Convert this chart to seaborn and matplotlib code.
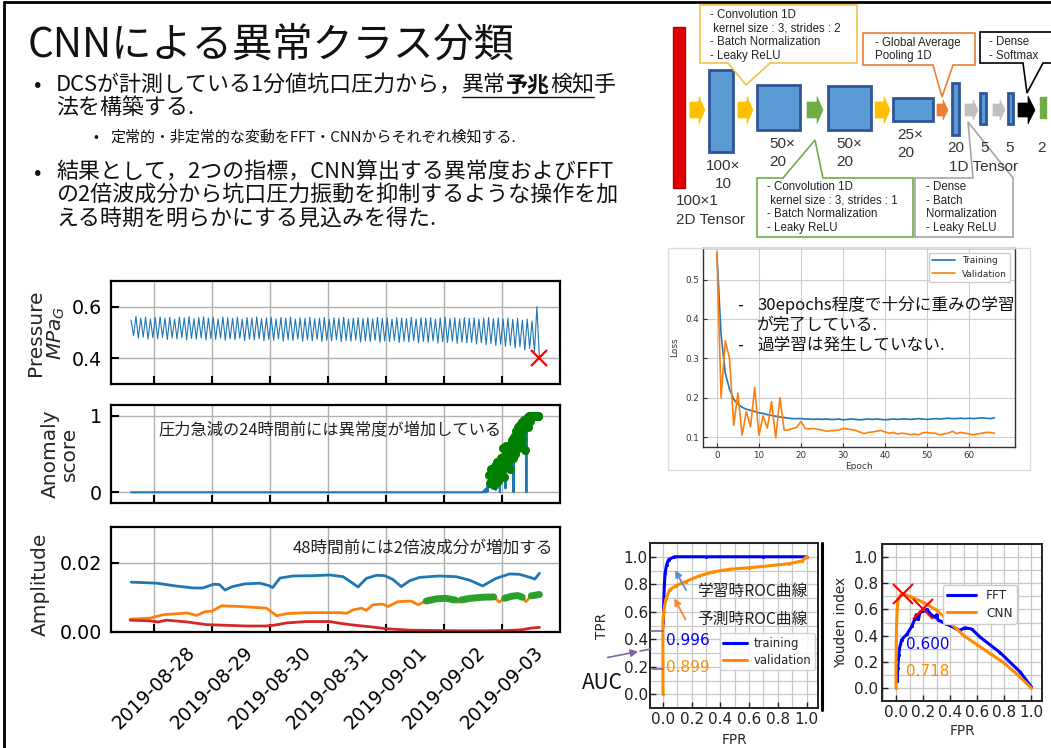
import numpy as np
import pandas as pd
import matplotlib
matplotlib.use("Agg")
import matplotlib.pyplot as plt
import matplotlib.dates as mdates
from matplotlib.patches import Polygon, Rectangle
from matplotlib.ticker import MultipleLocator, FormatStrFormatter
import seaborn as sns

# ======================= DATA =======================
# --- wellhead pressure (alternating peak / trough, hourly points) ---
pressure_start = "2019-08-27 14:20"
pressure_peaks = [0.548, 0.562, 0.556, 0.560, 0.553, 0.558, 0.561, 0.555, 0.559, 0.552,
                  0.560, 0.557, 0.562, 0.554, 0.558, 0.561, 0.556, 0.559, 0.553, 0.560,
                  0.557, 0.555, 0.560, 0.552, 0.558, 0.556, 0.561, 0.554, 0.557, 0.559,
                  0.553, 0.558, 0.556, 0.560, 0.552, 0.557, 0.555, 0.559, 0.553, 0.556,
                  0.558, 0.551, 0.557, 0.555, 0.559, 0.552, 0.556, 0.558, 0.554, 0.557,
                  0.553, 0.559, 0.555, 0.557, 0.552, 0.558, 0.556, 0.554, 0.559, 0.553,
                  0.557, 0.555, 0.558, 0.552, 0.556, 0.559, 0.554, 0.557, 0.553, 0.558,
                  0.555, 0.557, 0.552, 0.556, 0.558, 0.554, 0.557, 0.553, 0.556, 0.551,
                  0.555, 0.548, 0.552, 0.545, 0.600]
pressure_troughs = [0.487, 0.478, 0.482, 0.474, 0.480, 0.476, 0.481, 0.473, 0.479, 0.475,
                    0.480, 0.472, 0.477, 0.474, 0.479, 0.471, 0.476, 0.473, 0.478, 0.470,
                    0.475, 0.472, 0.477, 0.469, 0.474, 0.471, 0.476, 0.468, 0.473, 0.470,
                    0.475, 0.467, 0.472, 0.469, 0.474, 0.466, 0.471, 0.468, 0.473, 0.465,
                    0.470, 0.467, 0.472, 0.464, 0.469, 0.466, 0.471, 0.463, 0.468, 0.465,
                    0.470, 0.462, 0.467, 0.464, 0.469, 0.461, 0.466, 0.463, 0.468, 0.460,
                    0.465, 0.462, 0.467, 0.459, 0.464, 0.461, 0.466, 0.458, 0.463, 0.460,
                    0.462, 0.455, 0.460, 0.452, 0.457, 0.449, 0.454, 0.446, 0.450, 0.440,
                    0.445, 0.432, 0.438, 0.425, 0.410]
pressure_drop_mark = 0.40

# --- anomaly score (flat 0 until 2019-09-02 16:00, then every 20 min) ---
anomaly_first_time = "2019-08-27 14:20"
anomaly_start = "2019-09-02 16:00"
anomaly_scores = [0.0, 0.02, 0.0, 0.04, 0.0, 0.07, 0.01, 0.09, 0.22, 0.12,
                  0.30, 0.05, 0.18, 0.27, 0.10, 0.34, 0.03, 0.24, 0.40, 0.15,
                  0.32, 0.0, 0.45, 0.26, 0.38, 0.58, 0.20, 0.48, 0.05, 0.60,
                  0.35, 0.52, 0.42, 0.62, 0.30, 0.55, 0.68, 0.45, 0.0, 0.72,
                  0.50, 0.80, 0.62, 0.85, 0.58, 0.75, 0.88, 0.65, 0.92, 0.70,
                  0.82, 0.95, 0.55, 0.90, 0.0, 0.97, 0.85, 1.0, 0.93, 1.0,
                  0.98, 1.0, 1.0, 1.0, 1.0, 1.0, 1.0, 1.0, 1.0, 1.0]
anomaly_alert_from = 8
anomaly_alert_min = 0.1

# --- FFT amplitudes (hours after 2019-08-27 00:00) ---
amp_base = "2019-08-27 00:00"
amp_fund_hours = [14.4, 25.0, 32.6, 40.2, 44.0, 48.6, 50.9, 53.2, 56.2, 61.5, 67.6, 71.4,
                  72.9, 76.0, 81.3, 90.4, 96.6, 102.1, 108.3, 111.7, 115.9, 119.3, 122.7,
                  126.2, 129.6, 133.8, 142.0, 148.9, 154.4, 159.9, 165.4, 171.0, 175.0,
                  179.5, 181.5, 183.4]
amp_fund_vals = [0.0144, 0.0141, 0.0133, 0.0127, 0.0127, 0.0138, 0.0137, 0.0121, 0.0131,
                 0.0139, 0.0141, 0.0134, 0.0128, 0.0156, 0.0162, 0.0163, 0.0165, 0.0160,
                 0.0130, 0.0155, 0.0164, 0.0163, 0.0152, 0.0131, 0.0148, 0.0158, 0.0162,
                 0.0160, 0.0150, 0.0133, 0.0155, 0.0168, 0.0167, 0.0158, 0.0153, 0.0170]
amp_2nd_hours = [14.0, 22.2, 27.6, 37.4, 41.5, 45.0, 47.7, 51.8, 59.4, 70.4, 74.6, 78.7,
                 87.0, 100.8, 103.5, 106.2, 109.7, 111.7, 114.5, 118.6, 120.7, 124.8, 130.3,
                 133.1, 136.5, 140.5, 144.5, 148.5, 149.6, 151.0, 155.0, 160.0, 164.5,
                 166.8, 169.0, 172.0, 174.5, 176.3, 177.8, 180.0, 183.4]
amp_2nd_vals = [0.0036, 0.0039, 0.0049, 0.0054, 0.0047, 0.0058, 0.0059, 0.0075, 0.0073,
                0.0068, 0.0046, 0.0052, 0.0055, 0.0055, 0.0053, 0.0063, 0.0068, 0.0062,
                0.0078, 0.0080, 0.0073, 0.0087, 0.0089, 0.0078, 0.0089, 0.0095, 0.0097,
                0.0092, 0.0085, 0.0092, 0.0097, 0.0100, 0.0101, 0.0086, 0.0097, 0.0103,
                0.0105, 0.0100, 0.0087, 0.0104, 0.0108]
amp_3rd_hours = [14.0, 22.2, 25.5, 29.1, 37.4, 45.6, 53.9, 62.2, 70.0, 73.2, 78.7, 86.7,
                 96.6, 100.8, 106.1, 114.4, 120.0, 129.6, 140.0, 150.0, 160.0, 170.0,
                 176.0, 180.0, 183.4]
amp_3rd_vals = [0.0033, 0.0031, 0.0028, 0.0033, 0.0028, 0.0020, 0.0018, 0.0016, 0.0016,
                0.0018, 0.0025, 0.0029, 0.0029, 0.0024, 0.0019, 0.0013, 0.0008, 0.0004,
                0.0003, 0.0002, 0.0002, 0.0003, 0.0005, 0.0010, 0.0012]
amp_alert_from_hour = 136
amp_alert_min = 0.0088

# --- training history ---
loss_training = [0.565, 0.360, 0.262, 0.222, 0.196, 0.184, 0.176, 0.171, 0.168, 0.165,
                 0.162, 0.160, 0.157, 0.155, 0.153, 0.151, 0.150, 0.148, 0.147, 0.147,
                 0.147, 0.146, 0.146, 0.145, 0.146, 0.145, 0.146, 0.145, 0.145, 0.146,
                 0.144, 0.145, 0.146, 0.145, 0.144, 0.145, 0.146, 0.145, 0.146, 0.145,
                 0.144, 0.145, 0.146, 0.145, 0.146, 0.146, 0.145, 0.146, 0.147, 0.146,
                 0.145, 0.146, 0.147, 0.146, 0.147, 0.148, 0.147, 0.147, 0.148, 0.147,
                 0.148, 0.147, 0.148, 0.149, 0.148, 0.147, 0.149]
loss_validation = [0.570, 0.200, 0.345, 0.300, 0.130, 0.212, 0.105, 0.165, 0.126, 0.226,
                   0.105, 0.154, 0.123, 0.190, 0.098, 0.200, 0.118, 0.118, 0.122, 0.125,
                   0.140, 0.122, 0.121, 0.122, 0.120, 0.118, 0.115, 0.116, 0.117, 0.118,
                   0.122, 0.121, 0.119, 0.117, 0.113, 0.109, 0.112, 0.113, 0.115, 0.117,
                   0.113, 0.110, 0.112, 0.108, 0.110, 0.109, 0.106, 0.108, 0.106, 0.111,
                   0.112, 0.110, 0.110, 0.106, 0.108, 0.110, 0.115, 0.109, 0.112, 0.110,
                   0.108, 0.106, 0.108, 0.110, 0.112, 0.112, 0.110]

# --- ROC curves ---
roc_train_fpr = [0.003, 0.006, 0.010, 0.015, 0.025, 0.040, 0.080, 0.300, 0.700, 1.000]
roc_train_tpr = [0.52, 0.68, 0.80, 0.88, 0.94, 0.98, 1.00, 1.00, 1.00, 1.00]
roc_val_fpr = [0.0, 0.0, 0.005, 0.02, 0.047, 0.093, 0.16, 0.25, 0.35, 0.47, 0.60, 0.70, 0.88, 0.97, 1.0]
roc_val_tpr = [0.0, 0.50, 0.60, 0.69, 0.76, 0.79, 0.82, 0.86, 0.89, 0.91, 0.92, 0.93, 0.95, 0.97, 1.0]
auc_train, auc_val = "0.996", "0.899"

# --- Youden index ---
youden_fft_fpr = [0.01, 0.012, 0.02, 0.025, 0.042, 0.08, 0.116, 0.14, 0.15, 0.166, 0.178, 0.20,
                  0.228, 0.26, 0.29, 0.30, 0.31, 0.37, 0.47, 0.51, 0.56, 0.62, 0.77, 0.92, 1.0]
youden_fft_val = [0.05, 0.15, 0.25, 0.30, 0.37, 0.41, 0.47, 0.53, 0.56, 0.53, 0.58, 0.59,
                  0.60, 0.56, 0.54, 0.56, 0.52, 0.49, 0.44, 0.46, 0.45, 0.39, 0.27, 0.12, 0.01]
youden_cnn_fpr = [0.0, 0.0, 0.003, 0.008, 0.015, 0.03, 0.054, 0.10, 0.20, 0.30, 0.40, 0.50,
                  0.60, 0.70, 0.80, 0.90, 1.0]
youden_cnn_val = [0.0, 0.20, 0.45, 0.60, 0.68, 0.71, 0.718, 0.70, 0.655, 0.595, 0.50, 0.40,
                  0.33, 0.26, 0.19, 0.10, 0.0]
youden_best_fpr = [0.054, 0.20]
youden_best_val = [0.718, 0.600]
youden_labels = ["0.600", "0.718"]

# ======================= STYLE =======================
sns.set_theme(style="ticks")
JP = ["Noto Sans CJK JP", "DejaVu Sans"]
plt.rcParams["font.family"] = ["DejaVu Sans", "Noto Sans CJK JP"]
plt.rcParams["mathtext.fontset"] = "dejavusans"
plt.rcParams["axes.unicode_minus"] = False

W, H = 1051, 748
fig = plt.figure(figsize=(W / 100, H / 100), dpi=100)
fig.patch.set_facecolor("white")


def px_axes(x0, y0, x1, y1):
    return fig.add_axes([x0 / W, 1 - y1 / H, (x1 - x0) / W, (y1 - y0) / H])


C_BLUE, C_ORANGE, C_RED, C_GREEN = "#1f77b4", "#ff7f0e", "#d62728", "#2ca02c"

# ======================= LEFT TIME-SERIES PANELS =======================
axP = px_axes(110.7, 281, 559.7, 384)
axA = px_axes(110.7, 405, 559.7, 503)
axM = px_axes(110.7, 527, 559.7, 631.5)

p_times = pd.date_range(pressure_start, periods=2 * len(pressure_peaks), freq="h")
p_vals = np.empty(2 * len(pressure_peaks))
p_vals[0::2] = pressure_peaks
p_vals[1::2] = pressure_troughs
sns.lineplot(x=p_times, y=p_vals, ax=axP, color=C_BLUE, lw=0.8, estimator=None, sort=False)
axP.plot([p_times[-1]], [pressure_drop_mark], "x", color="red", ms=11, mew=1.6)
axP.set_ylim(0.3, 0.7)
axP.set_yticks([0.4, 0.6])

a_times = pd.date_range(anomaly_start, periods=len(anomaly_scores), freq="20min")
a_all_t = [pd.Timestamp(anomaly_first_time)] + list(a_times)
a_all_v = [0.0] + list(anomaly_scores)
sns.lineplot(x=a_all_t, y=a_all_v, ax=axA, color=C_BLUE, lw=1.5, estimator=None, sort=False)
a_sc = np.array(anomaly_scores)
a_mask = (np.arange(len(a_sc)) >= anomaly_alert_from) & (a_sc >= anomaly_alert_min)
axA.plot(a_times[a_mask], a_sc[a_mask], "o-", color="green", ms=5.5, lw=1.3)
axA.set_ylim(-0.14, 1.14)
axA.set_yticks([0, 1])
axA.text(0.488, 0.75, "圧力急減の24時間前には異常度が増加している", transform=axA.transAxes,
         ha="center", va="center", fontsize=11.7, family=JP, color="#222")

base = pd.Timestamp(amp_base)
def htimes(hours):
    return [base + pd.Timedelta(hours=h) for h in hours]

sns.lineplot(x=htimes(amp_fund_hours), y=amp_fund_vals, ax=axM, color=C_BLUE, lw=2.0, estimator=None, sort=False)
sns.lineplot(x=htimes(amp_2nd_hours), y=amp_2nd_vals, ax=axM, color=C_ORANGE, lw=2.0, estimator=None, sort=False)
sns.lineplot(x=htimes(amp_3rd_hours), y=amp_3rd_vals, ax=axM, color=C_RED, lw=2.0, estimator=None, sort=False)
h2 = np.array(amp_2nd_hours)
v2 = np.array(amp_2nd_vals)
g_mask = (h2 >= amp_alert_from_hour) & (v2 >= amp_alert_min)
t2 = np.array(htimes(amp_2nd_hours))
i = 0
while i < len(g_mask):
    if g_mask[i]:
        j = i
        while j + 1 < len(g_mask) and g_mask[j + 1]:
            j += 1
        axM.plot(t2[i:j + 1], v2[i:j + 1], color=C_GREEN, lw=5, solid_capstyle="round")
        i = j + 1
    else:
        i += 1
axM.set_ylim(0, 0.0305)
axM.set_yticks([0.0, 0.02])
axM.yaxis.set_major_formatter(FormatStrFormatter("%.2f"))
axM.text(0.985, 0.79, "48時間前には2倍波成分が増加する", transform=axM.transAxes,
         ha="right", va="center", fontsize=12, family=JP, color="#222")

t_lo, t_hi = p_times[0], p_times[-1]
span = t_hi - t_lo
xlim = (t_lo - 0.05 * span, t_hi + 0.05 * span)
for ax in (axP, axA, axM):
    ax.set_xlim(*xlim)
    ax.xaxis.set_major_locator(mdates.DayLocator())
    ax.xaxis.set_major_formatter(mdates.DateFormatter("%Y-%m-%d"))
    ax.grid(True, color="#b0b0b0", lw=1.0)
    ax.set_axisbelow(True)
    for s in ax.spines.values():
        s.set_linewidth(1.6)
        s.set_color("black")
    ax.tick_params(direction="in", length=6, width=1.5, labelsize=13.7, pad=6,
                   bottom=True, left=True, colors="black")
    ax.set_xlabel("")
axP.tick_params(labelbottom=False)
axA.tick_params(labelbottom=False)
axM.tick_params(axis="x", labelrotation=45, labelsize=13.5, pad=8)

axP.set_ylabel("Pressure\n$MPa_G$", fontsize=14.5, linespacing=1.0)
axP.yaxis.set_label_coords(-0.098, 0.5)
axA.set_ylabel("Anomaly\nscore", fontsize=14.5, linespacing=1.0)
axA.yaxis.set_label_coords(-0.07, 0.5)
axM.set_ylabel("Amplitude", fontsize=14.5)
axM.yaxis.set_label_coords(-0.135, 0.45)

# ======================= LOSS CHART =======================
axL = px_axes(703, 248, 1015, 447)
ep = np.arange(len(loss_training))
sns.lineplot(x=ep, y=loss_training, ax=axL, color=C_BLUE, lw=1.2, label="Training", estimator=None)
sns.lineplot(x=ep, y=loss_validation, ax=axL, color=C_ORANGE, lw=1.2, label="Validation", estimator=None)
axL.set_xlim(-3.3, 70.9)
axL.set_ylim(0.075, 0.58)
axL.set_xticks([0, 10, 20, 30, 40, 50, 60])
axL.set_yticks([0.1, 0.2, 0.3, 0.4, 0.5])
axL.grid(True, color="#cfcfcf", lw=0.8)
for s in axL.spines.values():
    s.set_linewidth(1.0)
    s.set_color("#333")
axL.tick_params(direction="in", length=3, width=0.8, labelsize=6.3, pad=3, colors="#333",
                bottom=True, left=True)
axL.set_xlabel("Epoch", fontsize=6.5, color="#333")
axL.set_ylabel("Loss", fontsize=6.5, color="#333")
axL.xaxis.set_label_coords(0.5, -0.075)
axL.yaxis.set_label_coords(-0.075, 0.5)
axL.legend(loc="upper right", fontsize=6.5, frameon=True, framealpha=1, edgecolor="#cccccc",
           handlelength=2.5, borderpad=0.4, labelspacing=0.5)

# ======================= ROC =======================
def style_small(ax):
    for s in ax.spines.values():
        s.set_linewidth(1.4)
        s.set_color("#222")
    for axis in (ax.xaxis, ax.yaxis):
        axis.set_major_locator(MultipleLocator(0.2))
        axis.set_minor_locator(MultipleLocator(0.1))
        axis.set_major_formatter(FormatStrFormatter("%.1f"))
    ax.grid(True, which="both", color="#c8c8c8", lw=0.9)
    ax.set_axisbelow(True)
    ax.tick_params(which="major", direction="in", length=4, width=1.0, labelsize=11,
                   bottom=True, left=True, colors="#222")
    ax.tick_params(which="minor", length=0)
    ax.tick_params(axis="y", pad=1.5)
    ax.tick_params(axis="x", pad=3)

axR = px_axes(650, 543, 818, 708)
sns.lineplot(x=roc_train_fpr, y=roc_train_tpr, ax=axR, color="blue", lw=2.2, marker=".", ms=3,
             mec="blue", label="training", estimator=None, sort=False)
sns.lineplot(x=roc_val_fpr, y=roc_val_tpr, ax=axR, color="darkorange", lw=2.2, marker=".", ms=3,
             mec="darkorange", label="validation", estimator=None, sort=False)
axR.set_xlim(-0.09, 1.08)
axR.set_ylim(-0.1, 1.1)
style_small(axR)
axR.set_xlabel("FPR", fontsize=9.8)
axR.set_ylabel("TPR", fontsize=9.8)
axR.xaxis.set_label_coords(0.5, -0.15)
axR.yaxis.set_label_coords(-0.245, 0.5)
leg = axR.legend(loc="lower right", bbox_to_anchor=(0.995, 0.215), fontsize=8.4, frameon=True,
                 framealpha=0.85, edgecolor="#cccccc", handlelength=2.0, handletextpad=0.6,
                 borderpad=0.3, labelspacing=0.35, borderaxespad=0.2)
leg.set_zorder(4)
axR.text(0.236, 0.745, "学習時ROC曲線", fontsize=11.3, family=JP, va="center", color="#222", zorder=6)
axR.text(0.236, 0.545, "予測時ROC曲線", fontsize=11.3, family=JP, va="center", color="#222", zorder=6)
axR.annotate("", xy=(0.076, 0.92), xytext=(0.17, 0.74),
             arrowprops=dict(arrowstyle="-|>", color="#5B8FC9", lw=1.3, mutation_scale=10))
axR.annotate("", xy=(0.07, 0.715), xytext=(0.167, 0.525),
             arrowprops=dict(arrowstyle="-|>", color="#F08A3C", lw=1.3, mutation_scale=10))
axR.text(0.02, 0.39, auc_train, color="blue", fontsize=11, va="center", zorder=6)
axR.text(0.02, 0.195, auc_val, color="darkorange", fontsize=11, va="center", zorder=6)

# ======================= YOUDEN =======================
axY = px_axes(882, 544, 1042, 701)
sns.lineplot(x=youden_fft_fpr, y=youden_fft_val, ax=axY, color="blue", lw=2.2, marker=".", ms=3,
             mec="blue", label="FFT", estimator=None, sort=False)
sns.lineplot(x=youden_cnn_fpr, y=youden_cnn_val, ax=axY, color="darkorange", lw=2.2, marker=".", ms=3,
             mec="darkorange", label="CNN", estimator=None, sort=False)
axY.plot(youden_best_fpr, youden_best_val, "x", color="red", ms=14, mew=1.5, ls="none")
axY.set_xlim(-0.104, 1.08)
axY.set_ylim(-0.1, 1.1)
style_small(axY)
axY.tick_params(axis="y", pad=3)
axY.set_xlabel("FPR", fontsize=9.8)
axY.set_ylabel("Youden index", fontsize=9.8)
axY.xaxis.set_label_coords(0.5, -0.145)
axY.yaxis.set_label_coords(-0.215, 0.5)
axY.legend(loc="upper right", bbox_to_anchor=(0.88, 0.78), fontsize=8.7, frameon=True,
           framealpha=1, edgecolor="#cccccc", handlelength=2.4, borderpad=0.35, labelspacing=0.4)
axY.text(0.074, 0.33, youden_labels[0], color="blue", fontsize=11, va="center")
axY.text(0.074, 0.125, youden_labels[1], color="darkorange", fontsize=11, va="center")

# ======================= OVERLAY (slide text + diagram) =======================
ov = fig.add_axes([0, 0, 1, 1], zorder=10)
ov.set_xlim(0, W)
ov.set_ylim(H, 0)
ov.axis("off")
ov.patch.set_alpha(0)

# slide border
ov.plot([4, W], [2, 2], color="black", lw=2)
ov.plot([4, 4], [2, H], color="black", lw=2)
ov.plot([822, 822], [543, 710], color="black", lw=2.2)
ov.add_patch(Rectangle((668, 248), 362, 222, fill=False, ec="#dcdcdc", lw=1))

# title and bullets
ov.text(28, 45, "CNNによる異常クラス分類", fontsize=29, family=JP, va="center", ha="left", color="#111")
renderer = fig.canvas.get_renderer()

def seq_text(x, y, parts, size):
    spans = []
    for s, kw in parts:
        t = ov.text(x, y, s, fontsize=size, family=JP, va="center", ha="left", color="#111", **kw)
        bb = t.get_window_extent(renderer=renderer)
        spans.append((x, bb.x1))
        x = bb.x1
    return spans

B = 15.8
ov.text(38, 85, "•", fontsize=B, family=JP, va="center", ha="center", color="#111")
sp = seq_text(56, 85, [("DCSが計測している1分値坑口圧力から，", {}), ("異常", {}),
                        ("予兆", {"fontweight": "bold"}), ("検知", {}), ("手", {})], B)
ov.plot([sp[1][0], sp[3][1]], [97, 97], color="#111", lw=1)
ov.text(56, 108, "法を構築する.", fontsize=B, family=JP, va="center", ha="left", color="#111")
ov.text(96, 137, "•", fontsize=10.5, family=JP, va="center", ha="center", color="#111")
ov.text(110, 137, "定常的・非定常的な変動をFFT・CNNからそれぞれ検知する.", fontsize=10.8, family=JP,
        va="center", ha="left", color="#111")
ov.text(38, 173, "•", fontsize=B, family=JP, va="center", ha="center", color="#111")
for yy, line in zip([173, 196, 219], ["結果として，2つの指標，CNN算出する異常度およびFFT",
                                       "の2倍波成分から坑口圧力振動を抑制するような操作を加",
                                       "える時期を明らかにする見込みを得た."]):
    ov.text(56, yy, line, fontsize=B, family=JP, va="center", ha="left", color="#111")

# loss comment
LC = 12
ov.text(737, 305, "-", fontsize=LC, family=JP, va="center", ha="left", color="#111")
ov.text(757, 305, "30epochs程度で十分に重みの学習", fontsize=LC, family=JP, va="center", ha="left", color="#111")
ov.text(757, 325, "が完了している.", fontsize=LC, family=JP, va="center", ha="left", color="#111")
ov.text(737, 345, "-", fontsize=LC, family=JP, va="center", ha="left", color="#111")
ov.text(757, 345, "過学習は発生していない.", fontsize=LC, family=JP, va="center", ha="left", color="#111")

# AUC annotation
ov.text(602, 683, "AUC", fontsize=15, family=JP, va="center", ha="center", color="#111")
PUR = "#8064A2"
ov.annotate("", xy=(641, 651), xytext=(605, 658),
            arrowprops=dict(arrowstyle="-|>", color=PUR, lw=1.2, mutation_scale=11))
ov.plot([640, 651], [651, 649], color=PUR, lw=1.2)
ov.plot([651, 663], [631, 631], color=PUR, lw=1.2)
ov.plot([652, 663], [669, 669], color=PUR, lw=1.2)

# ---- CNN diagram ----
BLUE_F, BLUE_E = "#5B9BD5", "#2F5597"
ov.add_patch(Rectangle((673, 27), 12, 161, fc="#E00000", ec="#B00000", lw=1))
for (x0, x1, y0, y1) in [(709, 733, 70, 152), (757, 800, 85, 130), (828, 871, 86, 130),
                         (893, 933, 98, 121), (952, 959, 83, 135), (980, 986, 93, 124),
                         (1008, 1013, 93, 124)]:
    ov.add_patch(Rectangle((x0, y0), x1 - x0, y1 - y0, fc=BLUE_F, ec=BLUE_E, lw=2))
ov.add_patch(Rectangle((1040, 97), 6, 21, fc="#70AD47", ec="#70AD47", lw=1))

def block_arrow(x0, x1, yc, hs, hh, hl, color):
    pts = [(x0, yc - hs / 2), (x1 - hl, yc - hs / 2), (x1 - hl, yc - hh / 2), (x1, yc),
           (x1 - hl, yc + hh / 2), (x1 - hl, yc + hs / 2), (x0, yc + hs / 2)]
    ov.add_patch(Polygon(pts, closed=True, fc=color, ec=color, lw=0.5))

YEL, GRN, ORG, GRY = "#FFC000", "#70AD47", "#ED7D31", "#BFBFBF"
block_arrow(690, 705, 110, 16, 27, 6, YEL)
block_arrow(738, 753, 110, 16, 27, 6, YEL)
block_arrow(807, 823, 110, 16, 27, 6, GRN)
block_arrow(875, 890, 110, 16, 27, 6, YEL)
block_arrow(937, 948, 110, 12, 20, 5, ORG)
block_arrow(965, 978, 110, 12, 20, 5, GRY)
block_arrow(993, 1005, 110, 12, 20, 5, GRY)
block_arrow(1018, 1035, 110, 14, 28, 7, "black")

def callout_bottom(x0, y0, x1, y1, b1, tip, b2, color):
    pts = [(x0, y0), (x1, y0), (x1, y1), (b2, y1), tip, (b1, y1), (x0, y1)]
    ov.add_patch(Polygon(pts, closed=True, fc="white", ec=color, lw=1.2))

def callout_top(x0, y0, x1, y1, b1, tip, b2, color):
    pts = [(x0, y0), (b1, y0), tip, (b2, y0), (x1, y0), (x1, y1), (x0, y1)]
    ov.add_patch(Polygon(pts, closed=True, fc="white", ec=color, lw=1.2))

callout_bottom(700, 5, 857, 63, 728, (746, 85), 770, "#F2C14E")
callout_bottom(863, 33, 975, 65, 933, (942, 97), 953, ORG)
callout_bottom(980, 32, 1062, 63, 1023, (1027, 93), 1043, "black")
callout_top(757, 178, 913, 237, 783, (815, 140), 823, GRN)
callout_top(915, 178, 1013, 237, 973, (968, 122), 1013, "#A5A5A5")

DF = ["Liberation Sans", "DejaVu Sans"]
BS = 8.3
def box_lines(x, ys, lines):
    for yy, s in zip(ys, lines):
        ov.text(x, yy, s, fontsize=BS, family=DF, va="center", ha="left", color="#222")

box_lines(710, [15, 28.3, 41.7, 55.5], ["- Convolution 1D", " kernel size : 3, strides : 2",
                                        "- Batch Normalization", "- Leaky ReLU"])
box_lines(875, [42.5, 56], ["- Global Average", "Pooling 1D"])
box_lines(989, [41.5, 56], ["- Dense", "- Softmax"])
box_lines(767, [186.7, 200.7, 214, 228], ["- Convolution 1D", " kernel size : 3, strides : 1",
                                          "- Batch Normalization", "- Leaky ReLU"])
box_lines(926, [186.7, 200.7, 214, 228], ["- Dense", "- Batch", "Normalization", "- Leaky ReLU"])

NS = 11
def num(x, y, s, ha="left"):
    ov.text(x, y, s, fontsize=NS, family=DF, va="center", ha=ha, color="#333")

num(723, 166, "100×", "center")
num(723, 184, "10", "center")
num(676, 201, "100×1")
num(676, 220, "2D Tensor")
num(769, 144, "50×")
num(769, 162, "20")
num(836, 144, "50×")
num(836, 162, "20")
num(897, 135, "25×")
num(897, 153, "20")
num(956, 148, "20", "center")
num(985, 148, "5", "center")
num(1010, 148, "5", "center")
num(1041, 148, "2", "center")
num(949, 167, "1D Tensor")

fig.savefig("out.png", dpi=100, facecolor="white")
